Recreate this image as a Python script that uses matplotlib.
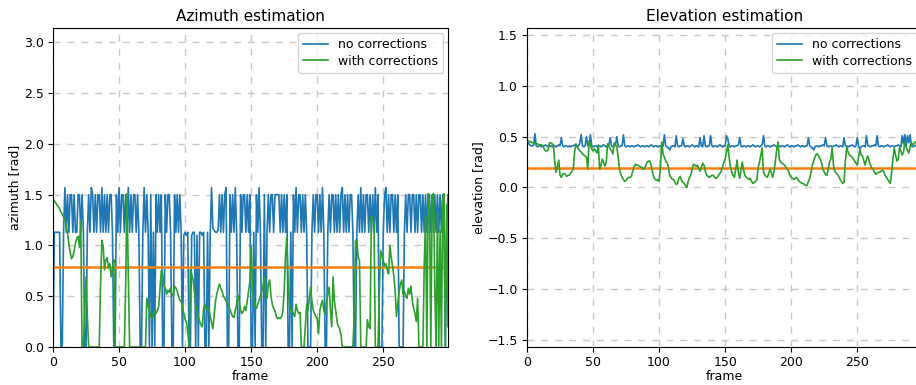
import matplotlib
matplotlib.use("Agg")
import matplotlib.pyplot as plt
import numpy as np

# azimuth [rad] per frame
az_no_corr = [
    0.00, 1.13, 1.13, 1.13, 1.13, 1.13, 0.00, 0.00, 1.13, 1.57, 1.13, 1.50, 1.13, 1.50, 1.50, 1.13, 1.50, 1.13, 1.13, 1.50,
    1.50, 1.13, 1.50, 1.13, 0.00, 0.00, 1.13, 1.50, 1.13, 1.57, 1.50, 1.13, 1.50, 1.13, 1.50, 1.50, 1.13, 1.57, 1.13, 1.50,
    1.13, 1.50, 1.13, 1.50, 1.50, 1.13, 0.00, 0.00, 1.50, 1.13, 1.57, 1.13, 1.50, 1.50, 1.13, 1.50, 1.13, 1.57, 1.13, 1.50,
    1.13, 1.50, 1.50, 1.13, 1.50, 1.13, 0.00, 0.00, 1.13, 1.57, 1.13, 1.50, 1.13, 0.00, 1.50, 0.00, 1.13, 0.00, 1.50, 1.13,
    1.50, 1.13, 1.50, 0.00, 0.00, 1.50, 1.13, 1.50, 1.50, 1.13, 0.00, 0.00, 1.50, 1.13, 1.50, 1.13, 1.50, 1.13, 0.00, 1.10,
    1.13, 1.10, 1.13, 0.00, 0.00, 1.10, 1.13, 1.13, 0.00, 1.10, 0.00, 1.13, 1.13, 1.10, 1.13, 0.00, 0.00, 1.13, 0.00, 1.10,
    1.57, 1.17, 1.15, 1.13, 1.13, 1.15, 1.50, 1.13, 1.50, 1.13, 1.50, 1.57, 0.00, 0.00, 1.50, 1.13, 1.50, 1.13, 1.57, 1.13,
    0.00, 0.00, 1.50, 1.13, 1.50, 1.50, 1.13, 1.50, 1.13, 1.50, 0.00, 0.00, 1.13, 0.00, 1.50, 1.13, 1.57, 1.13, 0.00, 0.00,
    1.50, 0.00, 1.13, 1.50, 1.13, 1.50, 1.50, 1.13, 1.50, 1.50, 1.50, 1.50, 1.13, 1.50, 1.13, 1.50, 1.13, 1.50, 0.00, 0.00,
    1.13, 0.00, 1.50, 1.13, 1.57, 1.13, 1.50, 1.50, 1.13, 1.50, 1.13, 1.50, 1.13, 0.00, 0.00, 0.00, 1.13, 1.50, 1.13, 1.50,
    1.50, 1.13, 1.50, 1.13, 1.57, 1.13, 0.00, 0.00, 1.13, 1.50, 1.13, 1.50, 1.50, 1.13, 1.50, 1.13, 1.50, 1.13, 1.50, 1.57,
    1.13, 1.50, 1.13, 1.50, 1.13, 1.50, 1.50, 1.13, 0.00, 0.00, 1.13, 1.50, 1.13, 1.57, 1.13, 1.50, 1.13, 1.50, 1.50, 1.13,
    1.50, 1.13, 1.50, 1.13, 1.57, 1.13, 1.50, 0.00, 0.00, 0.00, 1.13, 1.50, 1.57, 1.13, 1.50, 1.13, 1.50, 1.50, 1.13, 1.50,
    1.13, 1.50, 0.00, 0.00, 0.00, 0.00, 1.13, 1.50, 1.13, 1.50, 1.50, 1.13, 1.50, 1.50, 1.13, 1.50, 1.13, 1.50, 1.50, 1.13,
    1.50, 1.13, 1.50, 1.13, 1.50, 1.50, 1.13, 1.50, 1.13, 1.50, 1.13, 1.50, 1.13, 1.50, 1.13, 1.50, 1.13, 0.00, 1.13, 1.50,
]
az_with_corr = [
    1.45, 1.44, 1.42, 1.40, 1.38, 1.36, 1.33, 1.31, 1.28, 1.25, 1.19, 1.12, 1.02, 0.93, 0.87, 0.89, 0.95, 1.02, 1.07, 1.09,
    0.98, 1.24, 0.00, 0.00, 0.35, 0.69, 0.30, 0.00, 0.00, 0.00, 0.00, 0.00, 0.00, 0.00, 0.00, 0.00, 0.62, 1.05, 0.99, 0.76,
    0.86, 0.88, 0.78, 0.82, 0.69, 0.77, 0.86, 0.00, 0.00, 0.00, 0.00, 0.00, 0.00, 0.00, 0.00, 0.60, 1.51, 0.70, 0.00, 0.00,
    0.00, 0.00, 0.00, 0.00, 0.00, 0.00, 0.00, 0.00, 0.00, 0.00, 0.00, 0.48, 0.40, 0.36, 0.30, 0.28, 0.32, 0.35, 0.33, 0.36,
    0.40, 0.58, 0.75, 0.72, 0.60, 0.58, 0.52, 0.56, 0.54, 0.58, 0.52, 0.50, 0.60, 0.58, 0.55, 0.50, 0.46, 0.45, 0.40, 0.33,
    0.27, 0.24, 0.16, 0.00, 0.76, 0.72, 0.66, 0.55, 0.40, 0.36, 0.30, 0.25, 0.22, 0.20, 0.38, 0.42, 0.38, 0.37, 0.38, 0.30,
    0.24, 0.18, 0.32, 0.45, 0.52, 0.58, 0.62, 0.58, 0.55, 0.50, 0.48, 0.45, 0.43, 0.40, 0.37, 0.33, 0.30, 0.29, 0.36, 0.42,
    0.51, 0.45, 0.36, 0.33, 0.35, 0.40, 0.36, 0.45, 0.55, 0.64, 0.99, 0.55, 0.46, 0.40, 0.38, 0.42, 0.46, 0.50, 0.55, 0.60,
    0.69, 0.56, 0.48, 0.62, 0.66, 0.50, 0.42, 0.38, 0.36, 0.30, 0.28, 0.29, 0.28, 0.30, 0.35, 0.55, 0.90, 1.08, 0.62, 0.40,
    0.36, 0.35, 0.33, 0.30, 0.42, 0.36, 0.33, 0.34, 0.00, 0.00, 0.00, 0.20, 0.42, 0.36, 0.48, 0.59, 0.45, 0.36, 0.33, 0.30,
    0.28, 0.13, 0.36, 0.42, 0.46, 0.36, 0.32, 0.44, 0.52, 0.59, 0.36, 0.20, 0.69, 0.45, 0.36, 0.25, 0.20, 0.18, 0.12, 0.00,
    0.00, 0.00, 0.00, 0.00, 0.00, 0.00, 0.00, 0.00, 0.30, 1.05, 1.04, 0.88, 0.85, 0.00, 0.00, 0.00, 0.00, 0.00, 0.27, 0.20,
    0.18, 1.29, 1.26, 1.20, 0.00, 0.00, 0.00, 0.55, 0.95, 0.90, 0.85, 0.80, 0.82, 0.76, 0.72, 1.00, 0.88, 0.80, 0.70, 0.55,
    0.30, 0.42, 0.55, 0.62, 0.66, 0.52, 0.55, 0.50, 0.48, 0.58, 0.52, 0.60, 0.45, 0.38, 0.33, 0.25, 0.48, 0.00, 0.00, 0.00,
    0.00, 0.80, 1.29, 0.00, 1.51, 1.40, 0.00, 1.48, 1.51, 0.60, 0.00, 1.33, 0.00, 1.15, 0.00, 1.45, 1.51, 0.00, 1.40, 0.20,
]
az_true = 0.785

# elevation [rad] per frame
el_no_corr = [
    0.45, 0.44, 0.42, 0.41, 0.41, 0.42, 0.53, 0.41, 0.40, 0.41, 0.41, 0.40, 0.41, 0.41, 0.42, 0.41, 0.40, 0.41, 0.41, 0.40,
    0.41, 0.41, 0.40, 0.41, 0.42, 0.41, 0.49, 0.41, 0.40, 0.41, 0.41, 0.40, 0.41, 0.40, 0.41, 0.41, 0.42, 0.41, 0.40, 0.41,
    0.44, 0.52, 0.41, 0.40, 0.41, 0.50, 0.41, 0.42, 0.52, 0.41, 0.40, 0.41, 0.41, 0.40, 0.41, 0.41, 0.40, 0.41, 0.42, 0.41,
    0.40, 0.41, 0.42, 0.49, 0.41, 0.40, 0.41, 0.42, 0.50, 0.41, 0.40, 0.41, 0.41, 0.52, 0.41, 0.40, 0.41, 0.41, 0.40, 0.41,
    0.41, 0.40, 0.41, 0.41, 0.42, 0.41, 0.40, 0.41, 0.41, 0.40, 0.41, 0.41, 0.40, 0.41, 0.42, 0.41, 0.40, 0.41, 0.41, 0.40,
    0.41, 0.41, 0.40, 0.41, 0.52, 0.41, 0.40, 0.39, 0.37, 0.40, 0.41, 0.41, 0.40, 0.51, 0.41, 0.40, 0.41, 0.41, 0.48, 0.41,
    0.40, 0.41, 0.41, 0.40, 0.41, 0.42, 0.41, 0.40, 0.41, 0.41, 0.40, 0.49, 0.41, 0.40, 0.51, 0.41, 0.40, 0.41, 0.41, 0.51,
    0.41, 0.40, 0.41, 0.41, 0.40, 0.41, 0.42, 0.41, 0.40, 0.41, 0.41, 0.51, 0.48, 0.41, 0.40, 0.41, 0.41, 0.40, 0.41, 0.41,
    0.42, 0.49, 0.41, 0.40, 0.41, 0.41, 0.40, 0.41, 0.41, 0.40, 0.41, 0.42, 0.41, 0.40, 0.41, 0.41, 0.40, 0.41, 0.42, 0.51,
    0.41, 0.40, 0.41, 0.41, 0.40, 0.41, 0.41, 0.42, 0.41, 0.40, 0.41, 0.41, 0.40, 0.41, 0.41, 0.40, 0.41, 0.42, 0.41, 0.40,
    0.41, 0.41, 0.40, 0.41, 0.41, 0.42, 0.41, 0.40, 0.41, 0.41, 0.40, 0.41, 0.41, 0.49, 0.41, 0.40, 0.39, 0.37, 0.40, 0.41,
    0.41, 0.40, 0.41, 0.41, 0.42, 0.41, 0.49, 0.41, 0.40, 0.41, 0.41, 0.40, 0.41, 0.41, 0.42, 0.41, 0.40, 0.41, 0.41, 0.40,
    0.49, 0.41, 0.41, 0.40, 0.41, 0.41, 0.42, 0.41, 0.40, 0.41, 0.49, 0.41, 0.38, 0.40, 0.41, 0.41, 0.40, 0.51, 0.41, 0.41,
    0.40, 0.41, 0.41, 0.42, 0.41, 0.51, 0.41, 0.40, 0.41, 0.41, 0.40, 0.41, 0.41, 0.42, 0.41, 0.40, 0.41, 0.41, 0.40, 0.41,
    0.41, 0.42, 0.41, 0.40, 0.51, 0.43, 0.52, 0.41, 0.51, 0.44, 0.52, 0.41, 0.40, 0.41, 0.41, 0.42, 0.41, 0.40, 0.41, 0.41,
]
el_with_corr = [
    0.46, 0.46, 0.45, 0.45, 0.44, 0.44, 0.43, 0.43, 0.43, 0.42, 0.42, 0.42, 0.41, 0.38, 0.36, 0.36, 0.37, 0.44, 0.44, 0.43,
    0.42, 0.25, 0.15, 0.20, 0.27, 0.12, 0.10, 0.13, 0.14, 0.13, 0.11, 0.12, 0.12, 0.14, 0.16, 0.18, 0.34, 0.43, 0.40, 0.38,
    0.36, 0.35, 0.33, 0.32, 0.31, 0.30, 0.18, 0.46, 0.42, 0.38, 0.36, 0.38, 0.36, 0.34, 0.42, 0.18, 0.22, 0.28, 0.25, 0.21,
    0.25, 0.43, 0.41, 0.38, 0.36, 0.33, 0.44, 0.42, 0.40, 0.30, 0.18, 0.13, 0.10, 0.08, 0.06, 0.07, 0.09, 0.10, 0.10, 0.11,
    0.16, 0.20, 0.23, 0.22, 0.22, 0.21, 0.20, 0.20, 0.18, 0.19, 0.22, 0.25, 0.26, 0.26, 0.22, 0.15, 0.10, 0.08, 0.07, 0.08,
    0.06, 0.20, 0.45, 0.33, 0.30, 0.26, 0.25, 0.20, 0.12, 0.10, 0.08, 0.08, 0.05, 0.03, 0.04, 0.09, 0.11, 0.07, 0.05, 0.04,
    0.02, 0.00, 0.06, 0.10, 0.12, 0.18, 0.23, 0.22, 0.21, 0.22, 0.19, 0.16, 0.20, 0.24, 0.22, 0.16, 0.12, 0.11, 0.10, 0.11,
    0.12, 0.12, 0.10, 0.09, 0.10, 0.12, 0.14, 0.16, 0.20, 0.25, 0.28, 0.35, 0.42, 0.30, 0.20, 0.15, 0.12, 0.10, 0.18, 0.27,
    0.15, 0.09, 0.18, 0.25, 0.17, 0.12, 0.10, 0.09, 0.08, 0.09, 0.06, 0.04, 0.05, 0.06, 0.08, 0.20, 0.25, 0.32, 0.39, 0.15,
    0.12, 0.11, 0.10, 0.14, 0.18, 0.14, 0.10, 0.16, 0.26, 0.37, 0.45, 0.28, 0.25, 0.24, 0.23, 0.22, 0.20, 0.18, 0.16, 0.12,
    0.10, 0.09, 0.08, 0.09, 0.10, 0.08, 0.06, 0.05, 0.04, 0.04, 0.03, 0.02, 0.02, 0.06, 0.09, 0.15, 0.22, 0.26, 0.30, 0.33,
    0.33, 0.30, 0.28, 0.24, 0.18, 0.15, 0.13, 0.12, 0.18, 0.25, 0.28, 0.39, 0.22, 0.16, 0.14, 0.13, 0.11, 0.08, 0.06, 0.04,
    0.05, 0.26, 0.40, 0.35, 0.32, 0.31, 0.30, 0.28, 0.26, 0.24, 0.22, 0.30, 0.37, 0.32, 0.31, 0.26, 0.22, 0.28, 0.31, 0.26,
    0.22, 0.19, 0.18, 0.15, 0.13, 0.14, 0.15, 0.15, 0.16, 0.17, 0.16, 0.12, 0.10, 0.08, 0.06, 0.04, 0.15, 0.28, 0.39, 0.32,
    0.26, 0.28, 0.40, 0.36, 0.32, 0.35, 0.45, 0.40, 0.37, 0.34, 0.40, 0.44, 0.42, 0.43, 0.45, 0.44, 0.45, 0.43, 0.44, 0.45,
]
el_true = 0.196

frames = np.arange(len(az_no_corr))

fig = plt.figure(figsize=(9.16, 3.85), dpi=100)
W, H = 916.0, 385.0
ax1 = fig.add_axes([53 / W, 38 / H, 395 / W, 319 / H])
ax2 = fig.add_axes([527 / W, 38 / H, 395 / W, 319 / H])


def style(ax, ylim, yticks, ylabel, title):
    ax.set_xlim(0, len(frames) - 1)
    ax.set_ylim(*ylim)
    ax.set_yticks(yticks)
    ax.set_xticks([0, 50, 100, 150, 200, 250])
    ax.grid(True, linestyle=(0, (5, 5)), color='#c8c8c8', linewidth=1)
    ax.set_axisbelow(True)
    ax.set_xlabel('frame', fontsize=9, labelpad=1)
    ax.set_ylabel(ylabel, fontsize=9, labelpad=2)
    ax.set_title(title, fontsize=11, pad=5)
    ax.tick_params(labelsize=9, pad=3)
    ax.legend(loc='upper right', fontsize=9, labelspacing=0.3, borderaxespad=0.4)


ax1.plot(frames, az_no_corr, color='C0', lw=1.2, label='no corrections')
ax1.axhline(az_true, color='C1', lw=1.8)
ax1.plot(frames, az_with_corr, color='C2', lw=1.2, label='with corrections')
style(ax1, (0, np.pi), np.arange(0, 3.01, 0.5), 'azimuth [rad]', 'Azimuth estimation')

ax2.plot(frames, el_no_corr, color='C0', lw=1.2, label='no corrections')
ax2.axhline(el_true, color='C1', lw=1.8)
ax2.plot(frames, el_with_corr, color='C2', lw=1.2, label='with corrections')
style(ax2, (-np.pi / 2, np.pi / 2), np.arange(-1.5, 1.51, 0.5), 'elevation [rad]', 'Elevation estimation')

fig.savefig('out.png', dpi=100)
